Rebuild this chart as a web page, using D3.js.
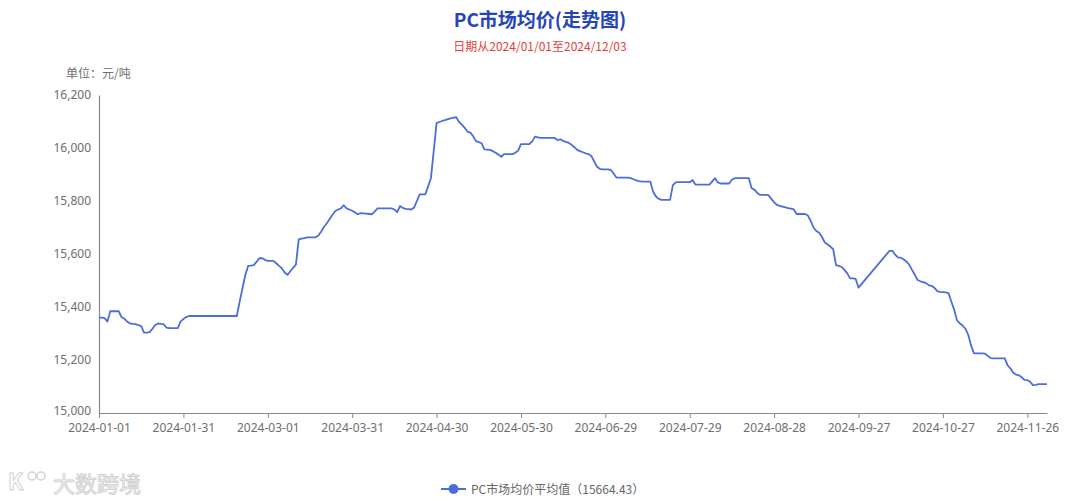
<!DOCTYPE html>
<html><head><meta charset="utf-8">
<script src="https://cdn.jsdelivr.net/npm/d3@7"></script>
<style>
html,body{margin:0;padding:0;background:#fff;}
svg{display:block;font-family:"Noto Sans CJK SC","Noto Sans",sans-serif;}
</style></head>
<body>
<svg id="chart" width="1080" height="501"></svg>
<script>
const titleText = "PC市场均价(走势图)";
const subtitleText = "日期从2024/01/01至2024/12/03";
const unitText = "单位：元/吨";
const seriesName = "PC市场均价平均值（15664.43）";
const startDate = "2024-01-01";
const endDate = "2024-12-03";
const xTickLabels = ["2024-01-01","2024-01-31","2024-03-01","2024-03-31","2024-04-30","2024-05-30","2024-06-29","2024-07-29","2024-08-28","2024-09-27","2024-10-27","2024-11-26"];
const yTicks = [15000,15200,15400,15600,15800,16000,16200];
// daily prices (yuan/ton), one per calendar day from 2024-01-01; null = no quote
const prices = [
15360,15360,15358,15345,15384,15384,15384,
15384,15362,15356,15345,15338,15336,15335,
15332,15328,15303,15303,15305,15318,15332,
15338,15336,15335,15322,15320,15320,15320,
15320,15345,15355,15362,15366,15366,15366,
15366,15366,15366,15366,15366,15366,15366,
15366,15366,15366,15366,15366,15366,15366,
15366,15420,15470,15520,15555,15556,15558,
15570,15584,15584,15578,15574,15574,15574,
15565,15555,15546,15530,15521,15535,15548,
15560,15655,15658,15660,15663,15663,15663,
15663,15670,15685,15703,15716,15732,15748,
15762,15768,15772,15784,15772,15768,15763,
15757,15750,15754,15753,15752,15751,15750,
15760,15772,15772,15772,15772,15772,15772,
15768,15758,15781,15774,15770,15769,15768,
15775,15800,15825,15825,15825,15855,15886,
15990,16094,16098,16102,16105,16109,16112,
16115,16116,16098,16088,16076,16062,16058,
16045,16026,16022,16018,15995,15994,15993,
15988,15982,15975,15967,15977,15977,15977,
15977,15982,15990,16015,16015,16015,16015,
16025,16043,16040,16038,16038,16038,16038,
16038,16038,16030,16033,16027,16023,16019,
16012,16003,15993,15988,15984,15980,15977,
15970,15950,15930,15921,15919,15919,15919,
15917,15903,15888,15888,15888,15888,15888,
15886,15882,15878,15875,15873,15873,15873,
15873,15835,15817,15808,15804,15804,15804,
15804,15860,15870,15871,15871,15871,15871,
15871,15879,15862,15862,15862,15862,15862,
15862,15874,15886,15870,15866,15866,15866,
15866,15880,15886,15886,15886,15886,15886,
15886,15848,15843,15830,15823,15823,15823,
15822,15808,15795,15785,15782,15779,15776,
15773,15771,15768,15751,15751,15751,15751,
15745,15725,15700,15687,15680,15664,15644,
15636,15628,15618,15558,15555,15551,15540,
15527,15508,15508,15506,15473,null,null,
null,null,null,null,null,null,null,null,
15612,15612,15598,15587,15586,15580,15572,
15560,15540,15522,15502,15497,15494,15490,
15482,15480,15472,15460,15457,15456,15455,
15452,15420,15390,15350,15338,15330,15318,
15295,15255,15226,15225,15225,15225,15224,
15215,15207,15206,15206,15206,15206,15206,
15180,15168,15152,15145,15142,15135,15125,
15124,15118,15105,15106,15109,15109,15109,
15109
];

const W = 1080, H = 501;
const margin = {left: 99, right: 33, top: 95, bottom: 88};
const svg = d3.select("#chart");
const parse = d3.timeParse("%Y-%m-%d");
const fmt = d3.timeFormat("%Y-%m-%d");
const dates = d3.timeDay.range(parse(startDate), d3.timeDay.offset(parse(endDate), 1)).map(fmt);
const data = dates.map((d, i) => ({date: d, value: prices[i]}));

const x = d3.scalePoint().domain(dates).range([margin.left, W - margin.right]);
const y = d3.scaleLinear().domain([15000, 16200]).range([H - margin.bottom, margin.top]);

const lineColor = "#4d6ddb";
const axisColor = "#8a8a8a";
const labelColor = "#6e6e6e";

// title
svg.append("text").attr("x", 540).attr("y", 27).attr("text-anchor", "middle")
  .attr("font-size", 19).attr("font-weight", "bold").attr("fill", "#2444b8").text(titleText);
svg.append("text").attr("x", 540).attr("y", 51).attr("text-anchor", "middle")
  .attr("font-size", 12).attr("fill", "#e5413b").text(subtitleText);
svg.append("text").attr("x", 66).attr("y", 78).attr("text-anchor", "start")
  .attr("font-size", 12).attr("fill", labelColor).text(unitText);

// y axis
const yAxis = svg.append("g").attr("transform", `translate(${margin.left},0)`)
  .call(d3.axisLeft(y).tickValues(yTicks).tickSize(0).tickPadding(8).tickFormat(d3.format(",")));
yAxis.select(".domain").attr("stroke", axisColor).attr("stroke-width", 1.2);
yAxis.selectAll("text").attr("font-size", 12).attr("fill", labelColor)
  .attr("font-family", "'Noto Sans','Noto Sans CJK SC',sans-serif");
yAxis.selectAll(".tick").filter(d => d === 15000).select("text").attr("dy", "0.1em");

// x axis
const xAxis = svg.append("g").attr("transform", `translate(0,${H - margin.bottom})`)
  .call(d3.axisBottom(x).tickValues(xTickLabels).tickSize(5).tickSizeOuter(0).tickPadding(5));
xAxis.select(".domain").attr("stroke", axisColor).attr("stroke-width", 1.2);
xAxis.selectAll(".tick line").attr("stroke", axisColor);
xAxis.selectAll("text").attr("font-size", 12).attr("fill", labelColor)
  .attr("font-family", "'Noto Sans','Noto Sans CJK SC',sans-serif");

// line
const defined = data.filter(d => d.value !== null);
svg.append("path").datum(defined)
  .attr("fill", "none").attr("stroke", lineColor).attr("stroke-width", 1.8)
  .attr("stroke-linejoin", "round")
  .attr("d", d3.line().x(d => x(d.date)).y(d => y(d.value)));

// legend
const lg = svg.append("g").attr("transform", "translate(441,489)");
lg.append("line").attr("x1", 0).attr("x2", 25).attr("y1", 0).attr("y2", 0)
  .attr("stroke", lineColor).attr("stroke-width", 2);
lg.append("circle").attr("cx", 12.5).attr("cy", 0).attr("r", 5).attr("fill", lineColor);
lg.append("text").attr("x", 30).attr("y", 4.5).attr("font-size", 12).attr("fill", "#666").text(seriesName);

// watermark
const wm = svg.append("g").attr("transform", "translate(8,472)").attr("opacity", 0.6);
wm.append("text").attr("x", 0).attr("y", 18).attr("font-size", 22).attr("font-weight", "bold")
  .attr("fill", "#fff").attr("stroke", "#b5b5b5").attr("stroke-width", 1).text("K");
wm.append("circle").attr("cx", 24).attr("cy", 4).attr("r", 4).attr("fill", "none").attr("stroke", "#b5b5b5").attr("stroke-width", 1.5);
wm.append("circle").attr("cx", 33).attr("cy", 4).attr("r", 4).attr("fill", "none").attr("stroke", "#b5b5b5").attr("stroke-width", 1.5);
wm.append("text").attr("x", 45).attr("y", 20).attr("font-size", 22)
  .attr("fill", "#fff").attr("stroke", "#b5b5b5").attr("stroke-width", 1).text("大数跨境");
</script>
</body></html>
